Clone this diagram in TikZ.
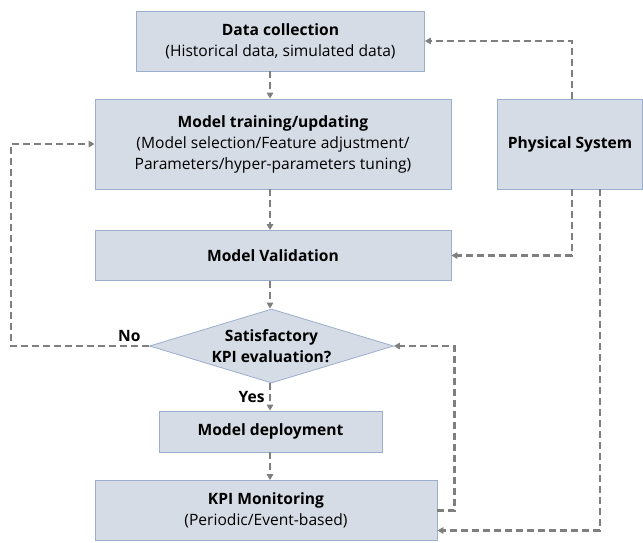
\documentclass[tikz,border=0pt]{standalone}
\usepackage{fontspec}
\setmainfont{Open Sans}
\usepackage{tikz}
\usetikzlibrary{shapes,arrows.meta}

\definecolor{boxfill}{HTML}{D6DCE5}
\definecolor{boxline}{HTML}{9AAECD}
\definecolor{flowgray}{HTML}{7F7F7F}

\begin{document}
\begin{tikzpicture}
		[
		x = 1pt, y = -1pt,
		every node/.style = {font = \fontsize{15.6}{21}\selectfont},
		block/.style = {draw = boxline, fill = boxfill, line width = 0.8pt, inner sep = 0pt, align = center},
		decision/.style = {diamond, draw = boxline, fill = boxfill, line width = 0.8pt, inner sep = 0pt, aspect = 3.3, align = center},
		flow/.style = {draw = flowgray, line width = 2.2pt, dash pattern = on 7pt off 4pt, -{Triangle[length = 6pt, width = 6.5pt]}},
		answer/.style = {font = \fontsize{15.6}{21}\selectfont\bfseries}
		]
		
		\useasboundingbox (0,0) rectangle (643,542);
		\coordinate (axis) at (270,0);
		
		\node [block, minimum width = 288, minimum height = 60] (data) at (280.5,41)
			{\textbf{Data collection}\\(Historical data, simulated data)};
		\node [block, minimum width = 356, minimum height = 90] (train) at (273,144)
			{\textbf{Model training/updating}\\(Model selection/Feature adjustment/\\Parameters/hyper-parameters tuning)};
		\node [block, minimum width = 145, minimum height = 90] (phys) at (570,144)
			{\textbf{Physical System}};
		\node [block, minimum width = 356, minimum height = 50] (valid) at (273,255.5)
			{\textbf{Model Validation}};
		\node [decision, minimum width = 244, minimum height = 74] (decide) at (271.5,346)
			{\textbf{Satisfactory}\\\textbf{KPI evaluation?}};
		\node [block, minimum width = 223, minimum height = 41] (deploy) at (270.5,431.5)
			{\textbf{Model deployment}};
		\node [block, minimum width = 342, minimum height = 60] (monitor) at (266,510.5)
			{\textbf{KPI Monitoring}\\(Periodic/Event-based)};
		
		% main line
		\draw [flow] (data.south -| axis) -- (train.north -| axis);
		\draw [flow] (train.south -| axis) -- (valid.north -| axis);
		\draw [flow] (valid.south -| axis) -- (decide.north -| axis);
		\draw [flow] (decide.south -| axis) -- (deploy.north -| axis)
			node [answer, midway, left, xshift = -1pt] (yes) {Yes};
		\draw [flow] (deploy.south -| axis) -- (monitor.north -| axis);
		
		% loops
		\draw [flow] (decide.west) -- ++(-138,0) |- (train.west);
		\node [answer, above left] (no) at ([xshift = -5pt, yshift = 1pt]decide.west) {No};
		\draw [flow] (monitor.east) -- ++(17,0) |- (decide.east);
		
		% physical system
		\draw [flow] ([xshift = 2pt]phys.north) |- (data.east);
		\draw [flow] ([xshift = 2pt]phys.south) |- (valid.east);
		\draw [flow] ([xshift = 30pt]phys.south) |- ([yshift = -20pt]monitor.east);
		
\end{tikzpicture}
\end{document}
